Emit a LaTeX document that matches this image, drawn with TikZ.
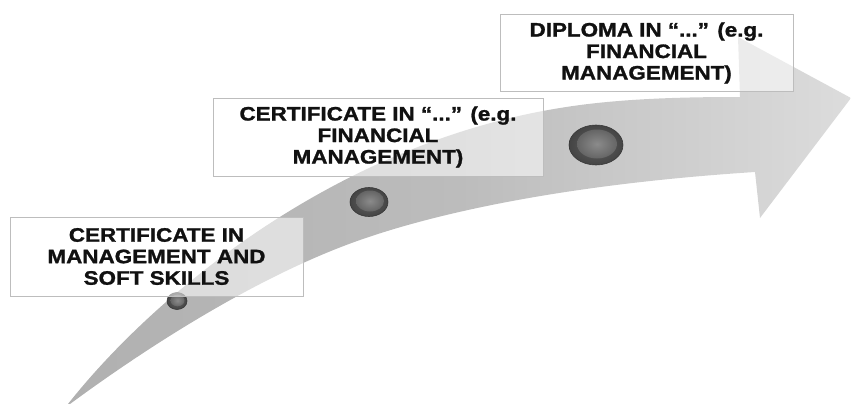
\documentclass[tikz,border=0pt]{standalone}
\usepackage{fontspec}
\newfontfamily\lab[FakeStretch=1.15, BoldFeatures={FakeBold=1.3}]{Liberation Sans}
\usetikzlibrary{shadings}
\definecolor{tailgray}{HTML}{B0B0B0}
\definecolor{midgray}{HTML}{BCBCBC}
\definecolor{headgray}{HTML}{DCDCDC}
\definecolor{boxline}{HTML}{BDBDBD}
\definecolor{txt}{HTML}{111111}
\definecolor{rimdark}{HTML}{505050}
\definecolor{facegray}{HTML}{7E7E7E}
\tikzset{
  labelbox/.style={draw=boxline, line width=1pt, fill=white, fill opacity=0.55,
    text opacity=1, text=txt, align=center, inner sep=0pt,
    font=\lab\bfseries\fontsize{19.5}{21.5}\selectfont},
  buttonrim/.style={draw=rimdark!70!black, line width=0.6pt, inner color=rimdark!90!white, outer color=rimdark!85!black},
  buttonface/.style={inner color=facegray!90!white, outer color=facegray!80!black}
}
\begin{document}
\begin{tikzpicture}[x=1pt,y=-1pt]
\useasboundingbox (0,0) rectangle (851,404);
% big curved arrow
\shade[left color=tailgray, right color=headgray, middle color=midgray]
  (68,404) .. controls (150,300) and (330,145) .. (560,108)
  .. controls (620,98) and (690,97) .. (740,97)
  -- (738,37) -- (851,98) -- (760,218) -- (755,172)
  .. controls (600,182) and (460,205) .. (360,240)
  .. controls (260,275) and (150,345) .. (70,404) -- cycle;
% buttons
\coordinate (c1) at (177,301);
\coordinate (c2) at (369,202);
\coordinate (c3) at (596,145);
\shade[buttonrim] (c1) ellipse [x radius=10, y radius=8.5];
\shade[buttonface] ([xshift=0.5,yshift=0.5]c1) ellipse [x radius=7, y radius=5.8];
\shade[buttonrim] (c2) ellipse [x radius=19, y radius=14.5];
\shade[buttonface] ([xshift=1,yshift=1]c2) ellipse [x radius=14, y radius=10.5];
\shade[buttonrim] (c3) ellipse [x radius=27, y radius=20];
\shade[buttonface] ([xshift=1,yshift=1]c3) ellipse [x radius=20, y radius=14.5];
% label boxes
\node[labelbox, minimum width=293, minimum height=79] (b1) at (156.5,256.5)
  {CERTIFICATE IN\\MANAGEMENT AND\\SOFT SKILLS};
\node[labelbox, minimum width=330, minimum height=78] (b2) at (378,137)
  {CERTIFICATE IN “...” (e.g.\\FINANCIAL\\MANAGEMENT)};
\node[labelbox, minimum width=293, minimum height=76] (b3) at (646.5,53)
  {DIPLOMA IN “...” (e.g.\\FINANCIAL\\MANAGEMENT)};
\end{tikzpicture}
\end{document}
